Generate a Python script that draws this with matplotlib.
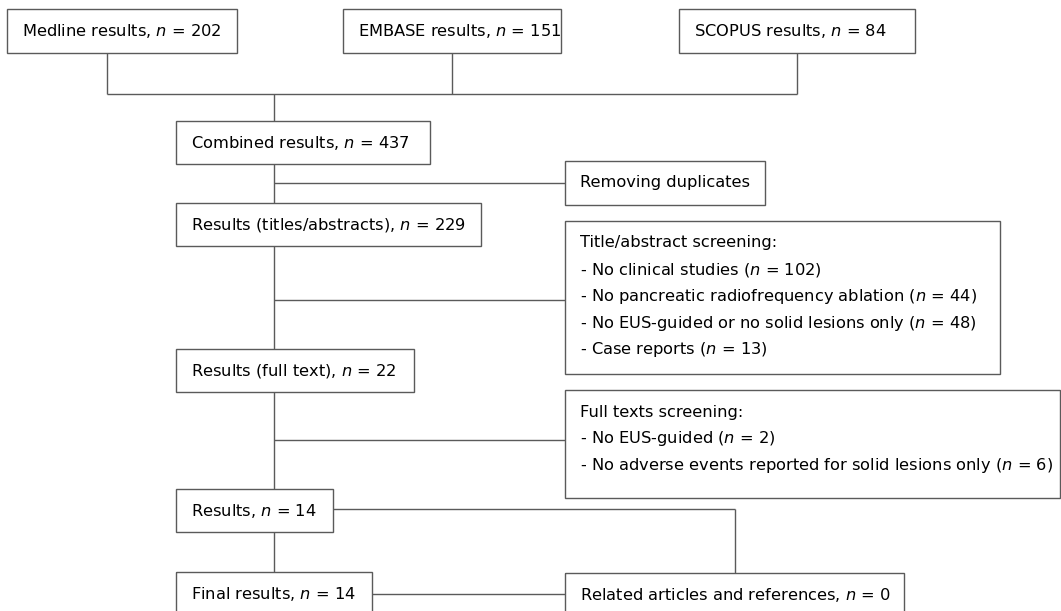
import matplotlib.pyplot as plt
from matplotlib.patches import Rectangle

plt.rcParams['font.family'] = ['DejaVu Sans']
plt.rcParams['mathtext.fontset'] = 'dejavusans'

N = r'$\mathit{n}$'

source_names = ['Medline results', 'EMBASE results', 'SCOPUS results']
source_counts = [202, 151, 84]

step_names = ['Combined results', 'Results (titles/abstracts)', 'Results (full text)',
              'Results', 'Final results']
step_counts = [437, 229, 22, 14, 14]

dup_label = 'Removing duplicates'

screen1_title = 'Title/abstract screening:'
screen1_reasons = ['No clinical studies', 'No pancreatic radiofrequency ablation',
                   'No EUS-guided or no solid lesions only', 'Case reports']
screen1_counts = [102, 44, 48, 13]

screen2_title = 'Full texts screening:'
screen2_reasons = ['No EUS-guided', 'No adverse events reported for solid lesions only']
screen2_counts = [2, 6]

related_label = 'Related articles and references'
related_count = 0

LC = '#5a5a5a'
FS = 11.7

fig = plt.figure(figsize=(10.61, 6.11), dpi=100)
ax = fig.add_axes([0, 0, 1, 1])
ax.set_xlim(0, 1061)
ax.set_ylim(611, 0)
ax.axis('off')


def box(x0, y0, x1, y1, lines, pad=15, spacing=26.7, first=22):
    ax.add_patch(Rectangle((x0, y0), x1 - x0, y1 - y0, fill=False,
                           edgecolor=LC, linewidth=1.0, clip_on=True))
    if len(lines) == 1:
        yc = (y0 + y1) / 2 if y1 <= 611 else y0 + 22
        ax.text(x0 + pad, yc, lines[0], fontsize=FS,
                va='center', ha='left', color='black')
    else:
        for i, t in enumerate(lines):
            ax.text(x0 + pad, y0 + first + i * spacing, t, fontsize=FS,
                    va='center', ha='left', color='black')


def line(xs, ys):
    ax.plot(xs, ys, color=LC, linewidth=1.0, solid_capstyle='butt')


# source boxes
src_box = [(7, 237), (343, 561), (679, 915)]
src_stem = [107, 452, 797]
for (x0, x1), sx, name, c in zip(src_box, src_stem, source_names, source_counts):
    box(x0, 9, x1, 53, [f'{name}, {N} = {c}'])
    line([sx, sx], [53, 94])
line([src_stem[0], src_stem[-1]], [94, 94])

# main column
main_x = 274
step_box = [(176, 121, 430, 164), (176, 203, 481, 246), (176, 349, 414, 392),
            (176, 489, 333, 532), (176, 572, 372, 640)]
for (x0, y0, x1, y1), name, c in zip(step_box, step_names, step_counts):
    box(x0, y0, x1, y1, [f'{name}, {N} = {c}'])

tops = [94] + [b[3] for b in step_box[:-1]]
bottoms = [b[1] for b in step_box]
for t, b in zip(tops, bottoms):
    line([main_x, main_x], [t, b])

# side boxes
box(565, 161, 765, 205, [dup_label])
line([main_x, 565], [183, 183])

s1 = [screen1_title] + [f'- {r} ({N} = {c})' for r, c in zip(screen1_reasons, screen1_counts)]
box(565, 221, 1000, 374, s1)
line([main_x, 565], [300, 300])

s2 = [screen2_title] + [f'- {r} ({N} = {c})' for r, c in zip(screen2_reasons, screen2_counts)]
box(565, 390, 1060, 498, s2)
line([main_x, 565], [440, 440])

box(565, 573, 904, 650, [f'{related_label}, {N} = {related_count}'])
line([333, 735], [509, 509])
line([735, 735], [509, 573])
line([372, 565], [594, 594])

fig.savefig('out.png', dpi=100, facecolor='white')
